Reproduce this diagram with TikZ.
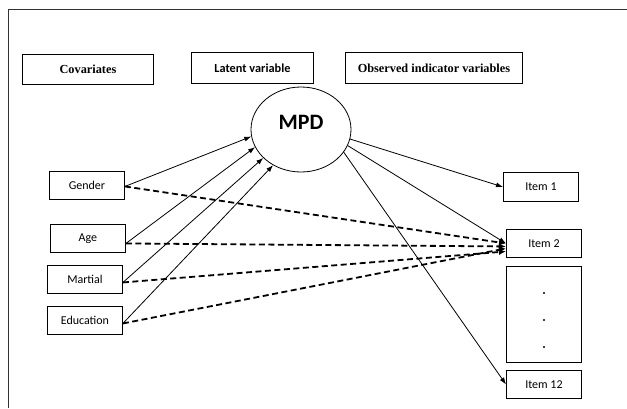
\documentclass[tikz,border=0pt]{standalone}
\usepackage{fontspec}
\setmainfont{Liberation Serif}
\newfontfamily\carfont{Carlito}
\usetikzlibrary{shapes.geometric,arrows.meta}
\begin{document}
\begin{tikzpicture}[x=1pt,y=-1pt,
  hdr/.style={draw,line width=0.9pt,inner sep=0pt,anchor=north west},
  var/.style={draw,line width=0.9pt,inner sep=0pt,anchor=north west,font=\carfont\fontsize{12}{14}\selectfont},
  sol/.style={line width=0.8pt,-{Latex[length=7pt,width=5pt]}},
  dsh/.style={line width=1.8pt,dash pattern=on 6pt off 3.5pt,-{Latex[length=7pt,width=6pt]}}]
\useasboundingbox (0,0) rectangle (627,408);
\draw[line width=0.8pt,black!80] (8,408) -- (8,9) -- (627,9);
% headers
\node[hdr,minimum width=131pt,minimum height=30pt,font=\bfseries\fontsize{12.3}{14}\selectfont] (hcov) at (22,54) {Covariates};
\node[hdr,minimum width=122pt,minimum height=31pt,font=\carfont\bfseries\fontsize{12.3}{14}\selectfont] (hlat) at (191,52) {Latent variable};
\node[hdr,minimum width=177pt,minimum height=31pt,font=\bfseries\fontsize{12.3}{14}\selectfont] (hobs) at (345,52) {Observed indicator variables};
% latent
\node[draw,ellipse,line width=0.8pt,minimum width=100pt,minimum height=85pt,inner sep=0pt] (mpd) at (301,129.5) {};
\node[font=\carfont\bfseries\fontsize{22}{24}\selectfont] (mpdt) at (301,122) {MPD};
% covariates
\node[var,minimum width=75pt,minimum height=28pt] (gen) at (49,171) {Gender};
\node[var,minimum width=75pt,minimum height=28pt] (age) at (50,224) {Age};
\node[var,minimum width=75pt,minimum height=28pt] (mar) at (47,265) {Martial};
\node[var,minimum width=75pt,minimum height=28pt] (edu) at (47,306) {Education};
% items
\node[var,minimum width=75pt,minimum height=29pt] (it1) at (503,172) {Item 1};
\node[var,minimum width=75pt,minimum height=28pt] (it2) at (506,229) {Item 2};
\node[draw,line width=0.9pt,inner sep=0pt,anchor=north west,minimum width=75pt,minimum height=96pt] (dots) at (506,266) {};
\fill (544,293) circle (1.1pt) (544,320) circle (1.1pt) (544,347) circle (1.1pt);
\node[var,minimum width=75pt,minimum height=28pt] (it12) at (506,370) {Item 12};
% covariates -> MPD
\draw[sol] ([yshift=-1pt]gen.east) -- (mpd.188);
\draw[sol] ([yshift=-5pt]age.east) -- (mpd.201);
\draw[sol] ([yshift=-3pt]mar.east) -- (mpd.217);
\draw[sol] ([yshift=-3pt]edu.east) -- (mpd.232);
% MPD -> items
\draw[sol] (mpd.-11) -- (it1.west);
\draw[sol] (mpd.-19) -- (it2.west);
\draw[sol] (mpd.-28) -- (it12.west);
% direct effects
\draw[dsh] ([yshift=-1pt]gen.east) -- (it2.west);
\draw[dsh] ([yshift=-5pt]age.east) -- ([yshift=-3pt]it2.west);
\draw[dsh] ([yshift=-3pt]mar.east) -- ([yshift=-8pt]it2.west);
\draw[dsh] ([yshift=-3pt]edu.east) -- ([yshift=-5pt]it2.west);
\end{tikzpicture}
\end{document}
